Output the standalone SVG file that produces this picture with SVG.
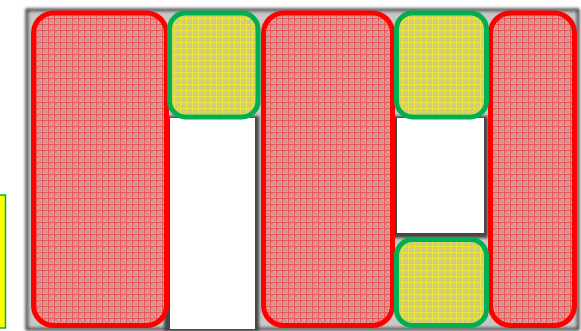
<svg xmlns="http://www.w3.org/2000/svg" width="581" height="331" viewBox="0 0 581 331">
<defs>
<pattern id="pr" width="6" height="6" patternUnits="userSpaceOnUse">
<rect width="6" height="6" fill="#cca4a4"/>
<rect x="1" y="1" width="2" height="2" fill="#dc8484"/>
<rect x="3" y="3" width="2" height="2" fill="#dc8484"/>
<rect x="0" y="0" width="6" height="1" fill="#ea5858"/>
<rect x="0" y="0" width="1" height="6" fill="#ea5858"/>
</pattern>
<pattern id="py" width="6" height="6" patternUnits="userSpaceOnUse">
<rect width="6" height="6" fill="#cbc59c"/>
<rect x="1" y="1" width="2" height="2" fill="#d9d270"/>
<rect x="3" y="3" width="2" height="2" fill="#d9d270"/>
<rect x="0" y="0" width="6" height="1" fill="#eae63a"/>
<rect x="0" y="0" width="1" height="6" fill="#eae63a"/>
</pattern>
<filter id="blur" x="-5%" y="-5%" width="110%" height="110%"><feGaussianBlur stdDeviation="1.5"/></filter>
</defs>
<style>
.red{fill:url(#pr);stroke:#ff0000;stroke-width:5}
.yel{fill:url(#py);stroke:#00b050;stroke-width:5}
.hole{fill:#ffffff}
</style>
<g id="frame">
<rect x="27" y="10" width="551" height="319" fill="#c8c8c8" stroke="#303030" stroke-width="3" filter="url(#blur)"/>
<rect x="164" y="116" width="95" height="215" fill="#444" filter="url(#blur)"/>
<rect x="170" y="118" width="85" height="211" class="hole"/>
<rect x="391" y="116" width="97" height="122" fill="#444" filter="url(#blur)"/>
<rect x="397" y="118" width="87" height="115" class="hole"/>
</g>
<g id="legend">
<rect x="-3" y="195" width="8.5" height="133" fill="#ffff00" stroke="#00b050" stroke-width="1.5"/>
</g>
<g id="red1"><rect class="red" x="33.5" y="13" width="133" height="312.5" rx="20" ry="20"/></g>
<g id="red2"><rect class="red" x="263.5" y="13" width="129" height="312.5" rx="20" ry="20"/></g>
<g id="red3"><rect class="red" x="490.5" y="13" width="84" height="312.5" rx="20" ry="20"/></g>
<g id="yellow1"><rect class="yel" x="169.5" y="13" width="88.5" height="104" rx="16" ry="16"/></g>
<g id="yellow2"><rect class="yel" x="396.5" y="13" width="90" height="104" rx="16" ry="16"/></g>
<g id="yellow3"><rect class="yel" x="396.5" y="239.5" width="90" height="86" rx="16" ry="16"/></g>
<g id="connectors"></g>
</svg>
